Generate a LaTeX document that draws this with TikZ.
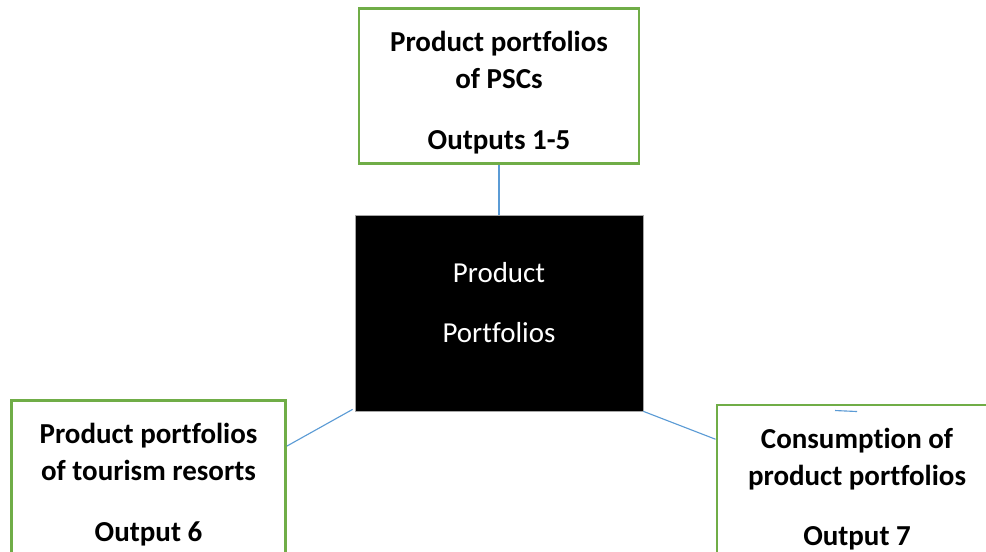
\documentclass[tikz,border=0pt]{standalone}
\usepackage{fontspec}
\setmainfont{Carlito}[Ligatures=NoCommon]
\usepackage{tikz}
\usetikzlibrary{positioning}
\definecolor{boxgreen}{HTML}{70AD47}
\definecolor{linkblue}{HTML}{5B9BD5}
\newcommand{\padtop}{\rule{0pt}{0.84cm}}

\begin{document}
\begin{tikzpicture}[
    outbox/.style={draw=boxgreen, line width=2.1pt, fill=white, minimum width=7.0cm, minimum height=3.875cm, align=center, font=\fontsize{20.6}{26.3}\selectfont\bfseries},
    core/.style={draw=gray!70, line width=0.5pt, fill=black, text=white, minimum width=7.2cm, minimum height=4.9cm, align=center, font=\fontsize{20.6}{26.3}\selectfont},
    link/.style={draw=linkblue, line width=0.8pt}
]
\useasboundingbox (0,0) rectangle (24.65,13.8);
\clip (0,0) rectangle (24.65,13.8);

\node[core, text depth=0.55cm] (pp) at (12.475,5.975) {Product\\[0.575cm]Portfolios};

\node[outbox] (psc) at (12.475,11.65) {\padtop Product portfolios\\of PSCs\\[0.6cm]Outputs 1-5};
\node[outbox, minimum width=6.85cm] (resort) at (3.7125,1.85) {\padtop Product portfolios\\of tourism resorts\\[0.6cm]Output 6};
\node[outbox] (cons) at (21.425,1.7375) {\padtop Consumption of\\product portfolios\\[0.6cm]Output 7};

\draw[link] (psc) -- (pp);
\draw[link] ([shift={(-0.05,0.05)}]pp.south west) -- (resort.13);
\draw[link] (pp.south east) -- (cons.163);

% stray mark on the right box
\draw[link] ([shift={(-0.55,-0.175)}]cons.north) -- ([yshift=-0.2cm]cons.north);
\end{tikzpicture}
\end{document}
